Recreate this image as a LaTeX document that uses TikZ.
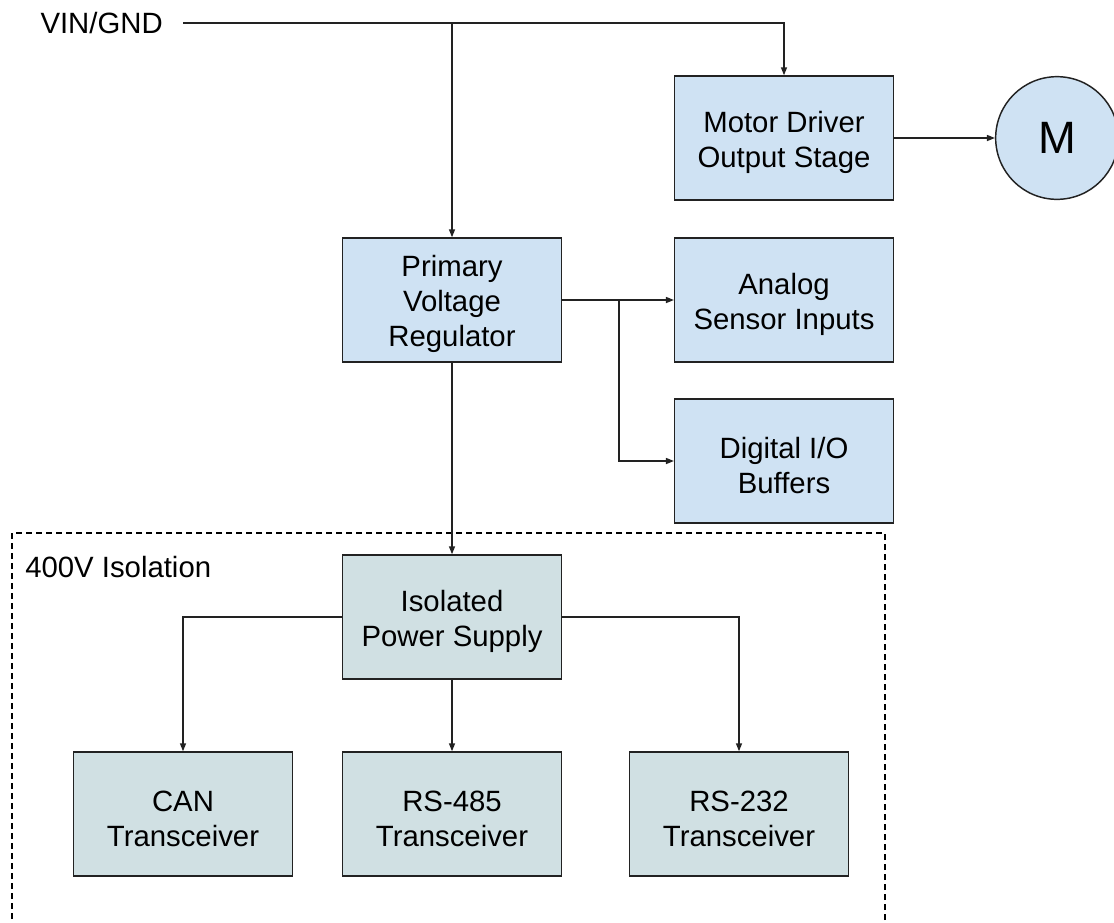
\documentclass[tikz,border=0pt]{standalone}
\usepackage{fontspec}
\setmainfont{Liberation Sans}
\usetikzlibrary{arrows.meta}

\definecolor{boxblue}{HTML}{CFE2F3}
\definecolor{boxcyan}{HTML}{D0E0E3}
\definecolor{edgegray}{HTML}{222222}

% extra room above the first line of a block
\newcommand{\headroom}{\rule{0pt}{22pt}}

\begin{document}
\begin{tikzpicture}[x=0.75pt,y=-0.75pt]
\tikzset{
  blocknode/.style={rectangle,draw=edgegray,line width=1.1pt,fill=boxblue,minimum width=164pt,minimum height=93pt,align=center,font=\fontsize{22}{26.25}\selectfont},
  isonode/.style={blocknode,fill=boxcyan},
  motornode/.style={circle,draw=edgegray,line width=1.1pt,fill=boxblue,minimum size=92pt,inner sep=0pt,font=\fontsize{34}{40}\selectfont},
  labelnode/.style={inner sep=0pt,font=\fontsize{22}{26.25}\selectfont},
  wire/.style={draw=edgegray,line width=1.1pt},
  feed/.style={wire,-{Triangle[length=6pt,width=4.5pt]}},
  zoneline/.style={draw=black,line width=1.1pt,dash pattern=on 4.5pt off 3pt}
}
\useasboundingbox (0,0) rectangle (1114,922);
% isolation zone
\draw[zoneline] (12,533) rectangle (885,940);
\node[labelnode,anchor=west] (n_zone) at (25,567) {400V Isolation};
% supply side
\node[labelnode,inner xsep=15pt,anchor=east] (n_vin) at (183,23) {\hspace{-15pt}VIN/GND};
\node[blocknode] (n_mdrv) at (784,138) {\headroom Motor Driver\\Output Stage};
\node[motornode] (n_motor) at (1057,138) {M};
\node[blocknode] (n_prim) at (452,300) {\headroom Primary\\Voltage\\Regulator};
\node[blocknode] (n_analog) at (784,300) {\headroom Analog\\Sensor Inputs};
\node[blocknode] (n_digital) at (784,461) {\headroom Digital I/O\\Buffers};
% isolated side
\node[isonode] (n_iso) at (452,617) {\headroom Isolated\\Power Supply};
\node[isonode] (n_can) at (183,814) {\headroom CAN\\Transceiver};
\node[isonode] (n_rs485) at (452,814) {\headroom RS-485\\Transceiver};
\node[isonode] (n_rs232) at (739,814) {\headroom RS-232\\Transceiver};
\coordinate (c_tap) at (452,23);
\coordinate (c_split) at (619,300);
\draw[feed] (n_vin.east) -| (n_mdrv.north);
\draw[feed] (c_tap) -- (n_prim.north);
\draw[feed] (n_mdrv.east) -- (n_motor.west);
\draw[feed] (n_prim.east) -- (n_analog.west);
\draw[feed] (c_split) |- (n_digital.west);
\draw[feed] (n_prim.south) -- (n_iso.north);
\draw[feed] (n_iso.west) -| (n_can.north);
\draw[feed] (n_iso.south) -- (n_rs485.north);
\draw[feed] (n_iso.east) -| (n_rs232.north);
\end{tikzpicture}
\end{document}
